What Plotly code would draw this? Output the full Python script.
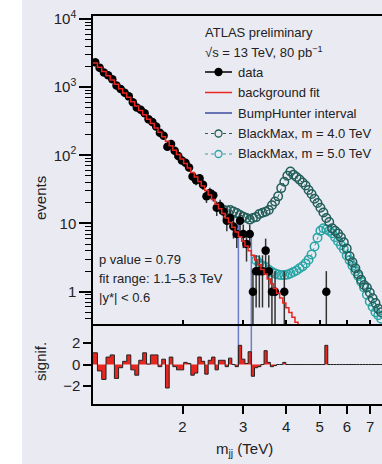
import numpy as np
import plotly.graph_objects as go

# ---------------- data ----------------
bin_edges = [1.100, 1.133, 1.166, 1.200, 1.234, 1.269, 1.305, 1.341, 1.378, 1.416,
             1.454, 1.493, 1.533, 1.573, 1.614, 1.656, 1.698, 1.741, 1.785, 1.830,
             1.875, 1.921, 1.968, 2.016, 2.065, 2.114, 2.164, 2.215, 2.267, 2.320,
             2.374, 2.429, 2.485, 2.542, 2.600, 2.659, 2.719, 2.780, 2.842, 2.905,
             2.969, 3.034, 3.100, 3.167, 3.235, 3.305, 3.376, 3.448, 3.521, 3.596,
             3.672, 3.749, 3.827, 3.907, 3.988, 4.070, 4.154, 4.239, 4.326, 4.414,
             4.504, 4.595, 4.688, 4.782, 4.878, 4.975, 5.074, 5.175, 5.277, 5.381,
             5.487, 5.595, 5.705, 5.817, 5.931, 6.047, 6.165, 6.285, 6.407, 6.531,
             6.658, 6.787, 6.918, 7.052, 7.188, 7.326, 7.467, 7.610]

data_counts = [2310, 1929, 1635, 1493, 1302, 1054, 939, 828, 731, 598,
               504, 464, 414, 339, 307, 265, 214, 194, 133, 146,
               117, 98, 84, 78, 66, 49, 43, 46, 37, 25,
               28, 26, 17, 18, 15, 11, 12, 9, 7, 11,
               7, 5, 7, 1, 2, 2, 2, 4, 2, 1,
               1, 0, 0, 1, 0, 0, 0, 0, 0, 0,
               0, 0, 0, 0, 0, 0, 0, 1, 0, 0,
               0, 0, 0, 0, 0, 0, 0, 0, 0, 0,
               0, 0, 0, 0, 0, 0, 0]

background_fit = [2258, 1956, 1693, 1466, 1270, 1097, 948, 819, 707, 610,
                  527, 455, 392, 338, 292, 251, 217, 187, 161, 138,
                  119, 103, 88.2, 75.8, 65.1, 56.0, 48.1, 41.4, 35.5, 30.4,
                  26.1, 22.4, 19.1, 16.4, 14.0, 12.0, 10.3, 8.77, 7.50, 6.41,
                  5.47, 4.68, 3.99, 3.41, 2.92, 2.48, 2.12, 1.81, 1.54, 1.31,
                  1.11, 0.947, 0.805, 0.685, 0.582, 0.495, 0.420, 0.357, 0.302]

significance = [1.1, -0.6, -1.4, 0.7, 0.9, -1.3, -0.3, 0.3, 0.9, -0.5,
                -1.0, 0.4, 1.1, 0.05, 0.9, 0.9, -0.2, 0.5, -2.2, 0.7,
                -0.2, -0.5, -0.5, 0.2, 0.1, -1.0, -0.8, 0.7, 0.3, -0.9,
                0.4, 0.7, -0.5, 0.4, 0.4, -0.2, 0.6, 0.0, -0.2, 1.8,
                0.5, 0.1, 1.2, -1.1, -0.3, -0.2, 0.0, 1.3, 0.2, -0.2,
                -0.1, 0, 0, 0.2, 0, 0, 0, 0, 0, 0,
                0, 0, 0, 0, 0, 0, 0, 1.8, 0, 0,
                0, 0, 0, 0, 0, 0, 0, 0, 0, 0,
                0, 0, 0, 0, 0, 0, 0]

blackmax4_first_bin = 35   # 1-based bin index of first point
blackmax4_counts = [15.8, 15.5, 15.8, 15.0, 14.2, 13.3, 12.6, 12.0, 11.4, 12.0,
                    12.4, 13.8, 14.4, 14.9, 15.8, 18.5, 21, 25, 33, 41,
                    50, 58, 52, 48, 44, 40, 36, 31, 27, 23,
                    20, 17, 14.5, 12, 10.5, 8.5, 7.8, 7.1, 6.3, 5.3,
                    4.3, 3.3, 2.7, 2.2, 1.8, 1.5, 1.25, 1.15, 0.97, 0.8,
                    0.68, 0.56, 0.5]

blackmax5_first_bin = 45
blackmax5_counts = [2.9, 2.6, 2.4, 2.3, 2.1, 1.95, 1.85, 1.78, 1.75, 1.75,
                    1.78, 1.85, 1.95, 2.05, 2.2, 2.35, 2.6, 2.95, 3.5, 4.6,
                    6.2, 7.8, 8.5, 8.2, 7.8, 7.2, 6.3, 5.5, 4.8, 4.2,
                    3.4, 2.9, 2.4, 2.0, 1.7, 1.4, 1.15, 0.9, 0.72, 0.6,
                    0.5, 0.45, 0.4]

bumphunter_interval = [2.905, 3.167]

x_tick_vals = [2, 3, 4, 5, 6, 7]
x_tick_text = ["2", "3", "4", "5", "6", "7"]
y_tick_vals = [1, 10, 100, 1000, 10000]
y_tick_text = ["1", "10", "10<sup>2</sup>", "10<sup>3</sup>", "10<sup>4</sup>"]
sig_tick_vals = [-2, 0, 2]
sig_tick_text = ["\u22122", "0", "2"]

legend_labels = ["data", "background fit", "BumpHunter interval",
                 "BlackMax, m = 4.0 TeV", "BlackMax, m = 5.0 TeV"]

# ---------------- styling ----------------
FONT = "Liberation Sans, Arial, sans-serif"
TXT = "#222222"
BG = "#eaeaf3"
RED = "#e8251f"
BLUE = "rgba(70,90,190,0.75)"
DARKTEAL = "#235e5a"
CYAN = "#2aa5a5"

# figure geometry (pixels)
W, H = 382, 464
ML, MR, MT, MB = 93, 0, 16, 60
PW, PH = W - ML - MR, H - MT - MB


def px2paper(px, py):
    return (px - ML) / PW, (H - MB - py) / PH


edges = np.array(bin_edges)
centers = 0.5 * (edges[:-1] + edges[1:])
counts = np.array(data_counts, dtype=float)
mask = counts > 0
err = np.sqrt(counts)

x_range = [np.log10(1.1), np.log10(7.58)]
y_range = [-0.474, 4.0425]
sig_range = [-3.7, 3.8]

fig = go.Figure()

# BumpHunter interval lines
bh_tops = [counts[list(edges).index(bumphunter_interval[0])],
           counts[list(edges).index(bumphunter_interval[1]) - 1]]
for xe, top in zip(bumphunter_interval, bh_tops):
    fig.add_trace(go.Scatter(x=[xe, xe], y=[10 ** y_range[0] * 0.8, top], mode="lines",
                             line=dict(color=BLUE, width=1.5), xaxis="x2", yaxis="y2",
                             showlegend=False, hoverinfo="skip"))
    fig.add_trace(go.Scatter(x=[xe, xe], y=[sig_range[1], 0], mode="lines",
                             line=dict(color=BLUE, width=1.5), xaxis="x", yaxis="y",
                             showlegend=False, hoverinfo="skip"))

# BlackMax signals
b5x = centers[blackmax5_first_bin - 1: blackmax5_first_bin - 1 + len(blackmax5_counts)]
fig.add_trace(go.Scatter(x=b5x, y=blackmax5_counts, mode="lines+markers",
                         line=dict(color=CYAN, width=1, dash="dot"),
                         marker=dict(symbol="circle-open", size=8.5, color=CYAN, line=dict(width=1.5)),
                         xaxis="x2", yaxis="y2", showlegend=False))
b4x = centers[blackmax4_first_bin - 1: blackmax4_first_bin - 1 + len(blackmax4_counts)]
fig.add_trace(go.Scatter(x=b4x, y=blackmax4_counts, mode="lines+markers",
                         line=dict(color=DARKTEAL, width=1, dash="dot"),
                         marker=dict(symbol="circle-open", size=8.5, color=DARKTEAL, line=dict(width=1.5)),
                         xaxis="x2", yaxis="y2", showlegend=False))

# data points
fig.add_trace(go.Scatter(x=centers[mask], y=counts[mask], mode="markers",
                         marker=dict(color="black", size=8.5),
                         error_y=dict(type="data", array=err[mask],
                                      arrayminus=np.minimum(err[mask], counts[mask] * 0.999),
                                      thickness=1.5, width=0, color="#333333"),
                         xaxis="x2", yaxis="y2", showlegend=False))

# background fit (step)
nf = len(background_fit)
fig.add_trace(go.Scatter(x=edges[:nf + 1], y=list(background_fit) + [background_fit[-1]],
                         mode="lines", line=dict(color=RED, width=1.5, shape="hv"),
                         xaxis="x2", yaxis="y2", showlegend=False))

# significance histogram
fig.add_trace(go.Scatter(x=edges, y=list(significance) + [significance[-1]], mode="lines",
                         line=dict(color="#222222", width=1, shape="hv"),
                         fill="tozeroy", fillcolor=RED, xaxis="x", yaxis="y",
                         showlegend=False, hoverinfo="skip"))

minor_vals = [k * 10.0 ** e for e in range(-1, 4) for k in range(2, 10)]

axis_common = dict(linecolor="black", linewidth=1.5, tickcolor="black", tickwidth=1.5,
                   showgrid=False, zeroline=False, automargin=False,
                   tickfont=dict(family=FONT, size=15, color=TXT))

split = 80 / PH
fig.update_layout(
    width=W, height=H,
    margin=dict(l=ML, r=MR, t=MT, b=MB, pad=0, autoexpand=False),
    paper_bgcolor=BG, plot_bgcolor="rgba(0,0,0,0)",
    font=dict(family=FONT, size=13, color=TXT),
    showlegend=False,
    xaxis=dict(type="log", range=x_range, domain=[0, 1], anchor="y",
               tickmode="array", tickvals=x_tick_vals, ticktext=x_tick_text,
               ticks="outside", ticklen=8, showline=True, mirror=False, **axis_common),
    yaxis=dict(range=sig_range, domain=[0, split], anchor="x",
               tickmode="array", tickvals=sig_tick_vals, ticktext=sig_tick_text,
               ticks="outside", ticklen=8, showline=True, **axis_common),
    xaxis2=dict(type="log", range=x_range, domain=[0, 1], anchor="y2", matches="x",
                tickmode="array", tickvals=x_tick_vals, showticklabels=False,
                ticks="inside", ticklen=4, showline=True, mirror=True, **axis_common),
    yaxis2=dict(type="log", range=y_range, domain=[split, 1.0], anchor="x2",
                tickmode="array", tickvals=y_tick_vals, ticktext=y_tick_text,
                ticks="outside", ticklen=12, showline=True,
                minor=dict(tickvals=minor_vals, ticks="outside", ticklen=6,
                           tickwidth=1.2, tickcolor="black"),
                **axis_common),
)

shapes = []
# white strip at the far left of the picture
shapes.append(dict(type="rect", xref="paper", yref="paper",
                   x0=-ML / PW, x1=(22 - ML) / PW, y0=-MB / PH - 0.01, y1=1 + MT / PH + 0.01,
                   fillcolor="white", line=dict(width=0), layer="below"))

ann = []


def txt(text, px, py, **kw):
    x, y = px2paper(px, py)
    d = dict(text=text, x=x, y=y, xref="paper", yref="paper", showarrow=False,
             font=dict(family=FONT, size=13, color=TXT), xanchor="left", yanchor="middle")
    d.update(kw)
    ann.append(d)


# legend block (drawn by hand)
txt("ATLAS preliminary", 203, 33)
txt("\u221As = 13 TeV, 80 pb<sup>\u22121</sup>", 203, 52)
row_y = [72, 92.5, 113, 133.5, 154]
sym_x0, sym_x1, text_x = 205, 232, 236
sym_styles = [
    dict(color="black", dash="solid", marker="filled"),
    dict(color=RED, dash="solid", marker=None),
    dict(color="#3a4ca0", dash="solid", marker=None),
    dict(color=DARKTEAL, dash="dot", marker="open"),
    dict(color=CYAN, dash="dot", marker="open"),
]
for label, yy, st in zip(legend_labels, row_y, sym_styles):
    xa, ya = px2paper(sym_x0, yy)
    xb, _ = px2paper(sym_x1, yy)
    shapes.append(dict(type="line", xref="paper", yref="paper", x0=xa, x1=xb, y0=ya, y1=ya,
                       line=dict(color=st["color"], width=1.5 if st["dash"] == "solid" else 1.2,
                                 dash=st["dash"])))
    if st["marker"]:
        xc, yc = px2paper((sym_x0 + sym_x1) / 2, yy)
        r = 3.5
        shapes.append(dict(type="circle", xref="paper", yref="paper",
                           xsizemode="pixel", ysizemode="pixel", xanchor=xc, yanchor=yc,
                           x0=-r, x1=r, y0=-r, y1=r,
                           fillcolor=st["color"] if st["marker"] == "filled" else BG,
                           line=dict(color=st["color"], width=1.3)))
    txt(label, text_x, yy)

txt("p value = 0.79", 97, 259)
txt("fit range: 1.1\u20135.3 TeV", 97, 278)
txt("|y*| < 0.6", 97, 297)
txt("events", 40, 198, xanchor="center", textangle=-90,
    font=dict(family=FONT, size=15, color=TXT))
txt("signif.", 40, 362, xanchor="center", textangle=-90,
    font=dict(family=FONT, size=15, color=TXT))
txt("m<sub>jj</sub> (TeV)", 244, 449, xanchor="center",
    font=dict(family=FONT, size=15, color=TXT))

fig.update_layout(annotations=ann, shapes=shapes)

# remove the default page margin so the figure sits at the window's top-left corner
fig.write_html("out.html", config={"displayModeBar": False},
               post_script="document.body.style.margin='0px';document.body.style.padding='0px';")
